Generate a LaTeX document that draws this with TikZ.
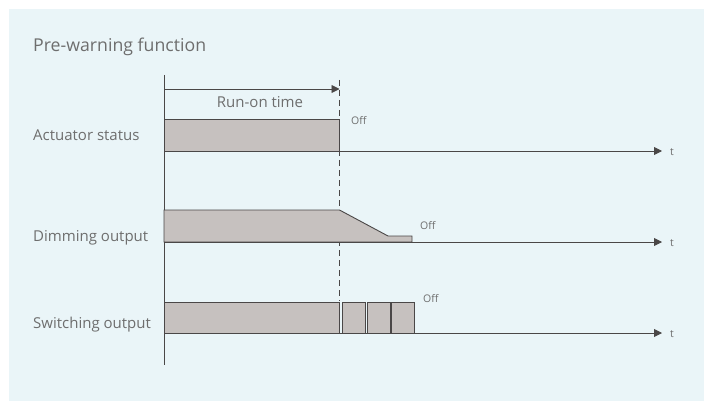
\documentclass[tikz,border=0pt]{standalone}
\usepackage{fontspec}
\setmainfont{Open Sans}
\usetikzlibrary{arrows.meta}
\definecolor{panel}{HTML}{EAF5F8}
\definecolor{barfill}{HTML}{C6C1BF}
\definecolor{ink}{HTML}{4A4747}
\definecolor{txt}{HTML}{6E6E6E}
\tikzset{
  bar/.style={fill=barfill,draw=ink,line width=0.9pt,line join=miter},
  axis/.style={draw=ink,line width=0.9pt},
  taxis/.style={axis,-{Triangle[length=8pt,width=8pt]}},
  lbl/.style={text=txt,font=\fontsize{15}{18}\selectfont,anchor=base west,inner sep=0pt},
  small/.style={text=txt,font=\fontsize{10.5}{12}\selectfont,anchor=base west,inner sep=0pt},
  dashline/.style={draw=ink,line width=0.9pt,dash pattern=on 6pt off 4pt}
}
\begin{document}
\begin{tikzpicture}[x=1pt,y=-1pt]
\useasboundingbox (0,0) rectangle (704,401);
\fill[white] (0,0) rectangle (704,401);
\fill[panel] (9,9) rectangle (712,410);
\node[text=txt,font=\fontsize{17.7}{20}\selectfont,anchor=base west,inner sep=0pt] (title) at (33,52) {Pre-warning function};
% vertical axis
\coordinate (vtop) at (164,75);
\coordinate (vbot) at (164,365);
\draw[axis] (vtop) -- (vbot);
% dashed line
\coordinate (dtop) at (339.5,80);
\coordinate (dbot) at (339.5,301);
\draw[dashline] (dtop) -- (dbot);
% run-on arrow
\coordinate (ra) at (164,89);
\coordinate (rb) at (339.5,89);
\draw[axis,-{Triangle[length=8pt,width=8pt]}] (ra) -- (rb);
\node[text=txt,font=\fontsize{15}{18}\selectfont,anchor=base,inner sep=0pt] (run) at (260,108) {Run-on time};
% actuator
\path[bar] (164,119) rectangle (339.5,151);
\coordinate (a1) at (164,151);
\coordinate (a2) at (662,151);
\draw[taxis] (a1) -- (a2);
\node[small] (off1) at (351,125) {Off};
\node[small] (t1) at (670,155) {t};
\node[lbl] (l1) at (33,141) {Actuator status};
% dimming
\path[bar] (164,242) -- (164,210) -- (339.5,210) -- (388,236) -- (412,236) -- (412,242) -- cycle;
\coordinate (b1) at (164,242);
\coordinate (b2) at (662,242);
\draw[taxis] (b1) -- (b2);
\node[small] (off2) at (420,229) {Off};
\node[small] (t2) at (670,246) {t};
\node[lbl] (l2) at (33,241) {Dimming output};
% switching
\path[bar] (164,302) rectangle (339,333);
\path[bar] (342,302) rectangle (365,333);
\path[bar] (367,302) rectangle (390,333);
\path[bar] (391.5,302) rectangle (414,333);
\coordinate (c1) at (164,333);
\coordinate (c2) at (662,333);
\draw[taxis] (c1) -- (c2);
\node[small] (off3) at (423,302) {Off};
\node[small] (t3) at (670,337) {t};
\node[lbl] (l3) at (33,328) {Switching output};
\end{tikzpicture}
\end{document}
